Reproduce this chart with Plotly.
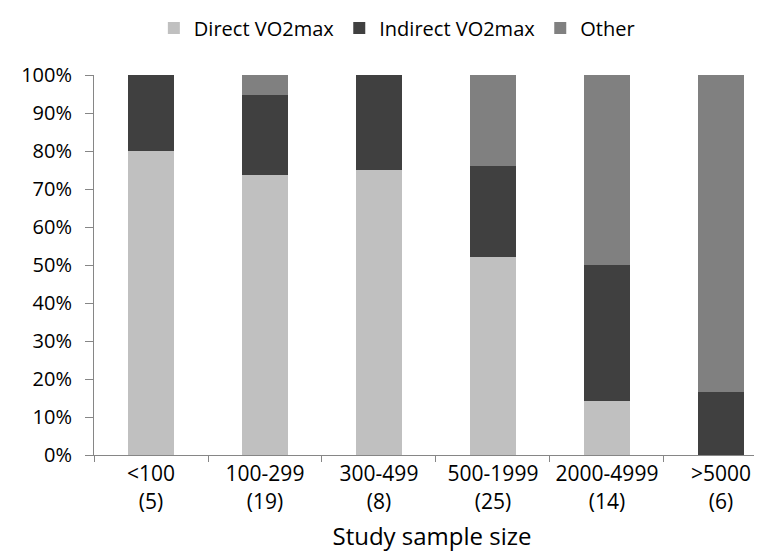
import plotly.graph_objects as go

# study sample size groups (number of studies in brackets)
categories = ['<100<br>(5)', '100-299<br>(19)', '300-499<br>(8)',
              '500-1999<br>(25)', '2000-4999<br>(14)', '>5000<br>(6)']

# share of studies per fitness assessment method
direct_vo2max = [0.80, 0.737, 0.75, 0.52, 0.143, 0.0]
indirect_vo2max = [0.20, 0.21, 0.25, 0.24, 0.357, 0.167]
other = [0.0, 0.053, 0.0, 0.24, 0.50, 0.833]

series = [
    ('Direct VO2max', direct_vo2max, '#c0c0c0'),
    ('Indirect VO2max', indirect_vo2max, '#404040'),
    ('Other', other, '#808080'),
]

fig = go.Figure()
for name, values, color in series:
    fig.add_trace(go.Bar(x=categories, y=values, name=name,
                         marker=dict(color=color, line=dict(width=0)),
                         width=0.395))

axis_grey = '#868686'
fig.update_layout(
    barmode='stack',
    width=762, height=555,
    margin=dict(l=86, r=0, t=67, b=108),
    plot_bgcolor='white', paper_bgcolor='white',
    font=dict(family='Open Sans', size=20, color='black'),
    showlegend=True,
    legend=dict(orientation='h', x=0.448, xanchor='center',
                y=1.124, yanchor='middle', traceorder='normal',
                font=dict(size=20), itemwidth=30, entrywidth=0),
    xaxis=dict(
        range=[-0.5, 5.43],
        showline=True, linecolor=axis_grey, linewidth=1,
        ticks='outside', tickson='boundaries', ticklen=6,
        tickcolor=axis_grey, showgrid=False, tickfont=dict(size=21),
        title=dict(text='Study sample size', standoff=14),
    ),
    yaxis=dict(
        range=[0, 1], dtick=0.1, tickformat='.0%',
        showline=True, linecolor=axis_grey, linewidth=1,
        ticks='outside', ticklen=8, tickcolor=axis_grey,
        showgrid=False, zeroline=False, ticklabelstandoff=9,
    ),
)

fig.write_html('out.html')
